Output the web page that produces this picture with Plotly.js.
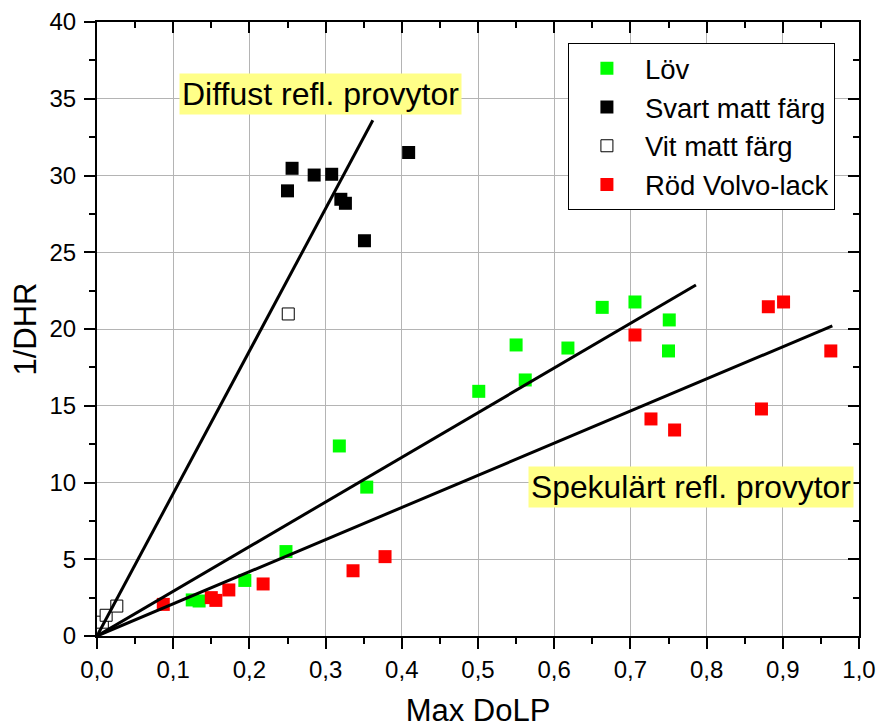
<!DOCTYPE html>
<html>
<head>
<meta charset="utf-8">
<script src="https://cdn.plot.ly/plotly-3.0.1.min.js"></script>
<style>html,body{margin:0;padding:0;background:#fff;}#chart{width:879px;height:728px;}</style>
</head>
<body>
<div id="chart"></div>
<script>
// Löv (green)
const lovX = [0.125, 0.134, 0.194, 0.248, 0.318, 0.354, 0.501, 0.550, 0.562, 0.618, 0.663, 0.706, 0.750, 0.751];
const lovY = [2.35, 2.28, 3.62, 5.50, 12.38, 9.70, 15.94, 18.96, 16.68, 18.76, 21.41, 21.76, 18.57, 20.59];
// Svart matt färg (black)
const svartX = [0.250, 0.256, 0.285, 0.308, 0.320, 0.326, 0.351, 0.409];
const svartY = [29.0, 30.47, 30.03, 30.08, 28.45, 28.19, 25.75, 31.5];
// Vit matt färg (white)
const vitX = [0.007, 0.012, 0.026, 0.251];
const vitY = [0.9, 1.35, 1.95, 20.98];
// Röd Volvo-lack (red)
const rodX = [0.087, 0.150, 0.156, 0.173, 0.218, 0.336, 0.378, 0.706, 0.727, 0.758, 0.872, 0.881, 0.901, 0.963];
const rodY = [2.06, 2.50, 2.32, 3.00, 3.39, 4.25, 5.17, 19.61, 14.14, 13.42, 14.79, 21.45, 21.76, 18.57];
// Fit lines
const diffLineX = [0, 0.362];
const diffLineY = [0, 33.6];
const midLineX = [0, 0.786];
const midLineY = [0, 22.87];
const lowLineX = [0, 0.965];
const lowLineY = [0, 20.2];
// Tick labels
const xTickVals = [0,0.1,0.2,0.3,0.4,0.5,0.6,0.7,0.8,0.9,1.0];
const xTickText = ['0,0','0,1','0,2','0,3','0,4','0,5','0,6','0,7','0,8','0,9','1,0'];
const yTickVals = [0,5,10,15,20,25,30,35,40];
const yTickText = ['0','5','10','15','20','25','30','35','40'];
const seriesNames = ['Löv','Svart matt färg','Vit matt färg','Röd Volvo-lack'];

const FONT = '"Liberation Sans", Arial, Helvetica, sans-serif';
const msize = 13;

const traces = [
  {x: lovX, y: lovY, name: seriesNames[0], mode: 'markers', type: 'scatter',
   marker: {symbol: 'square', size: msize, color: '#00ff00', line: {width: 0}}},
  {x: svartX, y: svartY, name: seriesNames[1], mode: 'markers', type: 'scatter',
   marker: {symbol: 'square', size: msize, color: '#000000', line: {width: 0}}},
  {x: vitX, y: vitY, name: seriesNames[2], mode: 'markers', type: 'scatter',
   marker: {symbol: 'square', size: msize - 1, color: '#ffffff', line: {width: 1, color: '#000000'}}},
  {x: rodX, y: rodY, name: seriesNames[3], mode: 'markers', type: 'scatter',
   marker: {symbol: 'square', size: msize, color: '#ff0000', line: {width: 0}}},
  {x: diffLineX, y: diffLineY, mode: 'lines', showlegend: false, line: {color: '#000', width: 3}, hoverinfo: 'skip'},
  {x: midLineX, y: midLineY, mode: 'lines', showlegend: false, line: {color: '#000', width: 3}, hoverinfo: 'skip'},
  {x: lowLineX, y: lowLineY, mode: 'lines', showlegend: false, line: {color: '#000', width: 3}, hoverinfo: 'skip'},
  {x: [], y: [], xaxis: 'x2', yaxis: 'y2', showlegend: false, hoverinfo: 'skip', type: 'scatter'}
];

const xr = [0, 1.0];
const yr = [0, 40];

const layout = {
  width: 879, height: 728,
  margin: {l: 97, r: 20, t: 22, b: 92},
  paper_bgcolor: '#fff', plot_bgcolor: '#fff',
  font: {family: FONT, color: '#000', size: 24},
  showlegend: true,
  legend: {
    x: 0.618, y: 0.966, xanchor: 'left', yanchor: 'top',
    bgcolor: '#fff', bordercolor: '#000', borderwidth: 1,
    font: {family: FONT, size: 27.5, color: '#000'},
    itemwidth: 66, tracegroupgap: 0
  },
  xaxis: {
    range: xr, tickvals: xTickVals, ticktext: xTickText,
    ticks: 'outside', ticklen: 11, tickwidth: 2, tickcolor: '#000',
    showline: true, linecolor: '#000', linewidth: 2, mirror: true,
    showgrid: true, gridcolor: '#b4b4b4', gridwidth: 1, zeroline: false,
    minor: {dtick: 0.05, ticks: 'outside', ticklen: 6, tickwidth: 2, tickcolor: '#000', showgrid: false},
    tickfont: {family: FONT, size: 24},
    title: {text: 'Max DoLP', font: {family: FONT, size: 31}, standoff: 24},
    fixedrange: true
  },
  yaxis: {
    range: yr, tickvals: yTickVals, ticktext: yTickText,
    ticks: 'outside', ticklen: 11, tickwidth: 2, tickcolor: '#000',
    showline: true, linecolor: '#000', linewidth: 2, mirror: true,
    showgrid: true, gridcolor: '#b4b4b4', gridwidth: 1, zeroline: false,
    minor: {dtick: 2.5, ticks: 'outside', ticklen: 6, tickwidth: 2, tickcolor: '#000', showgrid: false},
    tickfont: {family: FONT, size: 24},
    ticklabelstandoff: 3,
    title: {text: '1/DHR', font: {family: FONT, size: 31}, standoff: 4},
    fixedrange: true
  },
  xaxis2: {
    range: xr, overlaying: 'x', side: 'top', anchor: 'y2',
    tickvals: xTickVals, showticklabels: false,
    ticks: 'inside', ticklen: 11, tickwidth: 2, tickcolor: '#000',
    minor: {dtick: 0.05, ticks: 'inside', ticklen: 6, tickwidth: 2, tickcolor: '#000', showgrid: false},
    showgrid: false, zeroline: false, showline: false, fixedrange: true
  },
  yaxis2: {
    range: yr, overlaying: 'y', side: 'right', anchor: 'x2',
    tickvals: yTickVals, showticklabels: false,
    ticks: 'inside', ticklen: 11, tickwidth: 2, tickcolor: '#000',
    minor: {dtick: 2.5, ticks: 'inside', ticklen: 6, tickwidth: 2, tickcolor: '#000', showgrid: false},
    showgrid: false, zeroline: false, showline: false, fixedrange: true
  },
  annotations: [
    {text: 'Diffust refl. provytor', x: 0.2933, y: 35.28, xref: 'x', yref: 'y',
     showarrow: false, bgcolor: '#ffff88', borderpad: 2,
     font: {family: FONT, size: 32, color: '#000'}},
    {text: 'Spekulärt refl. provytor', x: 0.779, y: 9.71, xref: 'x', yref: 'y',
     showarrow: false, bgcolor: '#ffff88', borderpad: 2,
     font: {family: FONT, size: 31.8, color: '#000'}}
  ]
};

Plotly.newPlot('chart', traces, layout, {staticPlot: true, displayModeBar: false});
</script>
</body>
</html>
